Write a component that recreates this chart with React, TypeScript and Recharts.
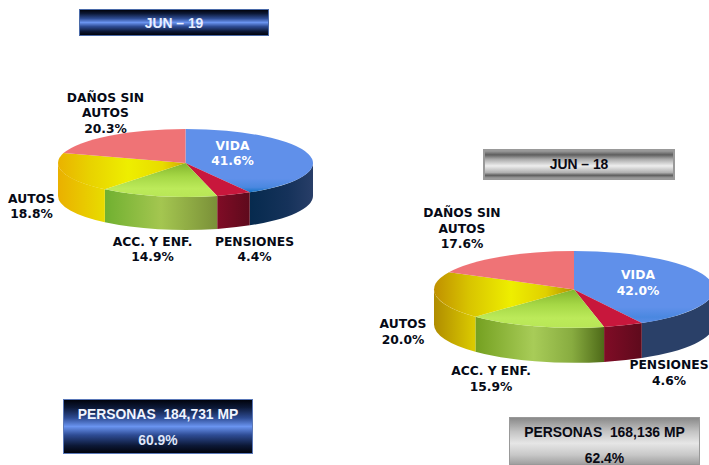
import React from "react";
import { PieChart, Pie } from "recharts";

const categories = ["VIDA", "PENSIONES", "ACC. Y ENF.", "AUTOS", "DAÑOS SIN|AUTOS"];
const shares19 = [41.6, 4.4, 14.9, 18.8, 20.3];
const shares18 = [42.0, 4.6, 15.9, 20.0, 17.6];

const data19 = categories.map((name, i) => ({ name, value: shares19[i] }));
const data18 = categories.map((name, i) => ({ name, value: shares18[i] }));

const FONT_LABEL = "'DejaVu Sans', Verdana, sans-serif";
const FONT_BOX = "'Liberation Sans', Arial, sans-serif";

type Stop = [number, string];
const Linear = ({ id, stops, vertical }: { id: string; stops: Stop[]; vertical?: boolean }) => (
  <linearGradient id={id} x1="0" y1="0" x2={vertical ? "0" : "1"} y2={vertical ? "1" : "0"}>
    {stops.map(([o, c], i) => (
      <stop key={i} offset={o} stopColor={c} />
    ))}
  </linearGradient>
);

const Gradients = ({ p, dark }: { p: string; dark?: boolean }) => (
  <>
    <Linear id={`${p}-top-0`} vertical stops={[[0, "#6090ea"], [0.78, "#6090ea"], [0.92, "#4a88e0"], [1, dark ? "#5a8ce6" : "#1272c4"]]} />
    <Linear id={`${p}-top-1`} stops={[[0, "#c8173c"], [1, "#c8173c"]]} />
    <Linear id={`${p}-top-2`} vertical stops={[[0, "#82b42c"], [0.4, "#a6d846"], [0.75, "#bcea5a"], [1, "#b8e656"]]} />
    <Linear
      id={`${p}-top-3`}
      stops={
        dark
          ? [[0, "#c09000"], [0.25, "#d8c400"], [0.55, "#eeee00"], [0.8, "#e0d000"], [1, "#b09000"]]
          : [[0, "#eab200"], [0.25, "#e8d200"], [0.55, "#eeee00"], [0.82, "#e8dc00"], [1, "#d0a800"]]
      }
    />
    <Linear id={`${p}-top-4`} stops={[[0, "#ef7376"], [1, "#ef7376"]]} />
    <Linear id={`${p}-side-0`} stops={dark ? [[0, "#2a4068"], [1, "#2a4068"]] : [[0, "#062a4e"], [0.6, "#15325a"], [1, "#283e68"]]} />
    <Linear id={`${p}-side-1`} stops={[[0, "#800c26"], [1, "#5e0a1c"]]} />
    <Linear
      id={`${p}-side-2`}
      stops={
        dark
          ? [[0, "#74a020"], [0.45, "#a8cc58"], [0.75, "#88ac40"], [1, "#4e6a18"]]
          : [[0, "#70b030"], [0.5, "#a4c650"], [1, "#7a9038"]]
      }
    />
    <Linear
      id={`${p}-side-3`}
      stops={dark ? [[0, "#b08c00"], [1, "#dccc00"]] : [[0, "#eab000"], [1, "#e8dc00"]]}
    />
    <Linear id={`${p}-side-4`} stops={[[0, "#b84f52"], [1, "#b84f52"]]} />
  </>
);

const rad = (d: number) => (d * Math.PI) / 180;

const makeShape = (prefix: string, squash: number, depth: number) => (props: any) => {
  const { cx, cy, outerRadius: rx, startAngle, endAngle, index } = props;
  const ry = rx * squash;
  const px = (a: number) => cx + rx * Math.cos(rad(a));
  const py = (a: number) => cy - ry * Math.sin(rad(a));
  const large = Math.abs(startAngle - endAngle) > 180 ? 1 : 0;
  const top = `M${cx} ${cy}L${px(startAngle)} ${py(startAngle)}A${rx} ${ry} 0 ${large} 1 ${px(endAngle)} ${py(endAngle)}Z`;
  const a = Math.min(startAngle, 0);
  const b = Math.max(endAngle, -180);
  const side =
    a > b
      ? `M${px(a)} ${py(a)}A${rx} ${ry} 0 0 1 ${px(b)} ${py(b)}L${px(b)} ${py(b) + depth}A${rx} ${ry} 0 0 0 ${px(a)} ${py(a) + depth}Z`
      : null;
  return (
    <g>
      {side && <path d={side} fill={`url(#${prefix}-side-${index})`} />}
      <path d={top} fill={`url(#${prefix}-top-${index})`} />
    </g>
  );
};

const makeLabel = (offsets: number[][]) => (props: any) => {
  const { cx, cy, index, name, value } = props;
  const [dx, dy] = offsets[index];
  const lines = [...String(name).split("|"), `${Number(value).toFixed(1)}%`];
  const white = index === 0;
  return (
    <text
      x={cx + dx}
      y={cy + dy}
      textAnchor="middle"
      fontFamily={FONT_LABEL}
      fontWeight="bold"
      fontSize={12.3}
      fill={white ? "#ffffff" : "#060a16"}
    >
      {lines.map((l, i) => (
        <tspan key={i} x={cx + dx} dy={i === 0 ? 0 : 15.4}>
          {l}
        </tspan>
      ))}
    </text>
  );
};

const offsets19 = [[47, -13], [69, 83], [-33, 83], [-154, 40], [-80, -61]];
const offsets18 = [[64, -10], [95, 80], [-83, 86], [-171, 39], [-112, -72]];

const box = (x: number, y: number, w: number, h: number, bg: string, border: string): React.CSSProperties => ({
  position: "absolute",
  left: x,
  top: y,
  width: w,
  height: h,
  boxSizing: "border-box",
  background: bg,
  border,
  fontFamily: FONT_BOX,
  fontWeight: "bold",
  fontSize: 13.9,
  textAlign: "center",
  whiteSpace: "pre",
});

const BLUE = "linear-gradient(180deg,#01030c 0%,#0c1836 14%,#2e4c94 34%,#6a94f0 50%,#2e4c94 66%,#0c1836 86%,#01030c 100%)";
const GREY_TITLE =
  "linear-gradient(180deg,#9a9a9a 0%,#5e5e5e 14%,#a8a8a8 30%,#eeeeee 55%,#b0b0b0 80%,#5e5e5e 90%,#9a9a9a 100%)";
const GREY_BOX = "linear-gradient(180deg,#8a8a8a 0%,#c4c4c4 30%,#e6e6e6 55%,#c8c8c8 80%,#a0a0a0 100%)";

const line = (y: number, color: string, text: string): React.ReactNode => (
  <div style={{ position: "absolute", left: 0, right: 0, top: y, color, lineHeight: "14px" }}>{text}</div>
);

const shape19 = makeShape("a", 34 / 127.5, 33);
const shape18 = makeShape("b", 38.4 / 140, 35);

export default function App() {
  return (
    <div style={{ position: "absolute", left: 0, top: 0, width: 709, height: 465, overflow: "hidden", background: "#fff" }}>
      <PieChart width={709} height={465} margin={{ top: 0, right: 0, bottom: 0, left: 0 }}>
        <defs>
          <Gradients p="a" />
          <Gradients p="b" dark />
        </defs>
        <Pie
          data={data19}
          dataKey="value"
          nameKey="name"
          cx={185.5}
          cy={163}
          outerRadius={127.5}
          startAngle={90}
          endAngle={-270}
          stroke="none"
          isAnimationActive={false}
          shape={shape19}
          label={makeLabel(offsets19)}
          labelLine={false}
        />
        <Pie
          data={data18}
          dataKey="value"
          nameKey="name"
          cx={574}
          cy={289.4}
          outerRadius={140}
          startAngle={90}
          endAngle={-270}
          stroke="none"
          isAnimationActive={false}
          shape={shape18}
          label={makeLabel(offsets18)}
          labelLine={false}
        />
      </PieChart>

      <div style={box(79, 9, 190, 27, BLUE, "1px solid #4a6aa8")}>{line(6, "#e8eeff", "JUN – 19")}</div>
      <div style={box(483, 149, 192, 31, GREY_TITLE, "2px solid #999")}>{line(6, "#0a0a14", "JUN – 18")}</div>
      <div style={box(63, 399, 190, 55, BLUE, "1px solid #5a78b8")}>
        {line(7, "#f0f4ff", "PERSONAS  184,731 MP")}
        {line(33, "#dfe6f8", "60.9%")}
      </div>
      <div style={box(509, 417, 191, 48, GREY_BOX, "1px solid #999")}>
        {line(7, "#0a0a14", "PERSONAS  168,136 MP")}
        {line(33, "#0a0a14", "62.4%")}
      </div>
    </div>
  );
}
